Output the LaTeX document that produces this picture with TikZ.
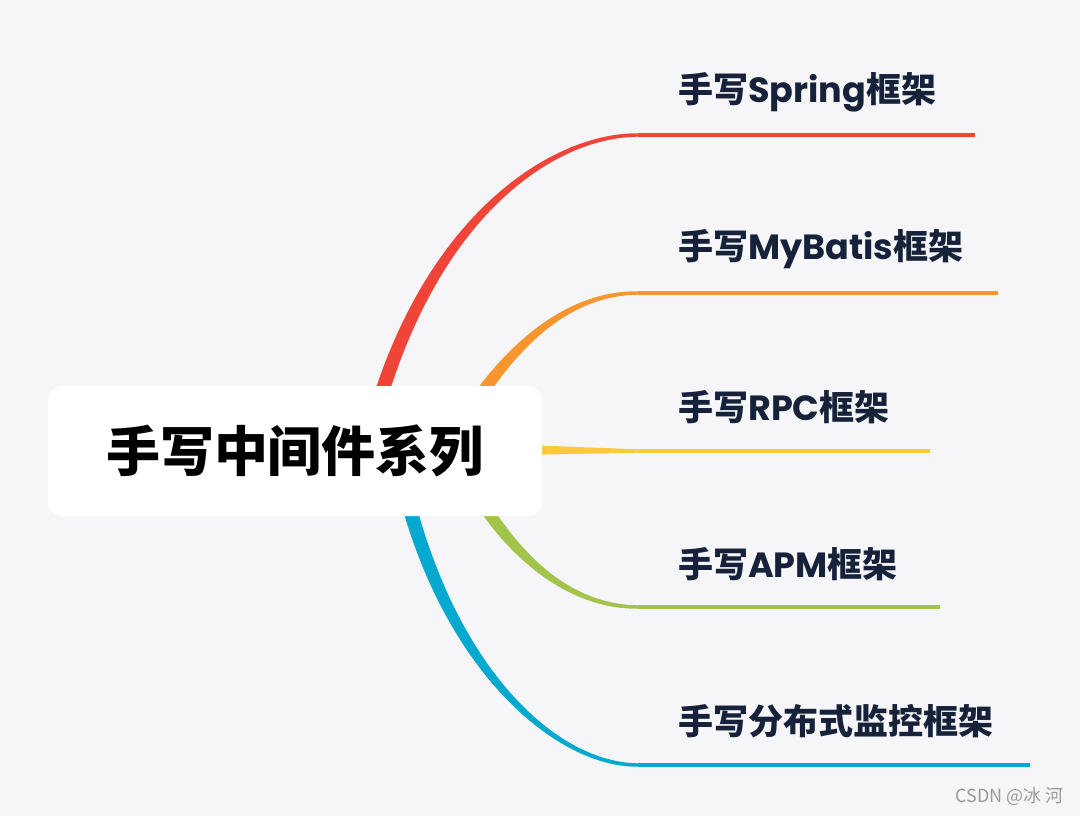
\documentclass[tikz,border=0pt]{standalone}
\usepackage{fontspec}
\setmainfont{Poppins}
\newfontfamily\cjk{Noto Sans CJK SC}
\newfontfamily\lat{Poppins}
\usetikzlibrary{calc}
\definecolor{bg}{HTML}{F6F6F9}
\definecolor{cred}{HTML}{F04438}
\definecolor{corange}{HTML}{F7962F}
\definecolor{cyellow}{HTML}{FEC83C}
\definecolor{cgreen}{HTML}{A2C44A}
\definecolor{cblue}{HTML}{05A9CF}
\definecolor{ink}{HTML}{15223A}
\definecolor{wm}{HTML}{9A9A9A}
\tikzset{
  rootbox/.style={fill=white, rounded corners=14pt, minimum width=494pt, minimum height=130pt, inner sep=0pt, text=black, font=\cjk\bfseries\fontsize{54}{60}\selectfont},
  lbl/.style={anchor=west, inner sep=0pt, text=ink, font=\bfseries\fontsize{35}{40}\selectfont},
  thin/.style={line width=3.4pt},
  wmark/.style={anchor=east, inner sep=0pt, text=wm, font=\cjk\fontsize{18}{20}\selectfont}
}
\begin{document}
\begin{tikzpicture}[x=1pt,y=-1pt]
\fill[bg] (0,0) rectangle (1080,816);
\useasboundingbox (0,0) rectangle (1080,816);
% branch control coordinates
\coordinate (r0) at (384,386); \coordinate (r1) at (444,206); \coordinate (r2) at (558,135); \coordinate (r3) at (638,135); \coordinate (re) at (975,135);
\coordinate (o0) at (487,386); \coordinate (o1) at (525,335); \coordinate (o2) at (575,293); \coordinate (o3) at (638,293); \coordinate (oe) at (998,293);
\coordinate (y0) at (530,450); \coordinate (y3) at (638,451); \coordinate (ye) at (930,451);
\coordinate (g0) at (491,516); \coordinate (g1) at (527,567); \coordinate (g2) at (577,607); \coordinate (g3) at (638,607); \coordinate (ge) at (940,607);
\coordinate (b0) at (412,516); \coordinate (b1) at (460,679); \coordinate (b2) at (560,765); \coordinate (b3) at (638,765); \coordinate (be) at (1030,765);
% red
\fill[cred] ($(r0)+(-6.6,-2.2)+(-6.3,19)$) -- ($(r0)+(-6.6,-2.2)$) .. controls ($(r1)+(-5.2,-1.7)$) and ($(r2)+(0,-2.5)$) .. ($(r3)+(0,-1.7)$)
  -- ($(r3)+(0,1.7)$) .. controls ($(r2)+(0,2.5)$) and ($(r1)+(5.2,1.7)$) .. ($(r0)+(6.6,2.2)$) -- ($(r0)+(6.6,2.2)+(-6.3,19)$) -- cycle;
\draw[cred, thin] (r3) -- (re);
% orange
\fill[corange] ($(o0)+(-4.8,-3.6)+(-12,16)$) -- ($(o0)+(-4.8,-3.6)$) .. controls ($(o1)+(-3.6,-2.7)$) and ($(o2)+(0,-2.5)$) .. ($(o3)+(0,-1.7)$)
  -- ($(o3)+(0,1.7)$) .. controls ($(o2)+(0,2.5)$) and ($(o1)+(3.6,2.7)$) .. ($(o0)+(4.8,3.6)$) -- ($(o0)+(4.8,3.6)+(-12,16)$) -- cycle;
\draw[corange, thin] (o3) -- (oe);
% yellow
\fill[cyellow] ($(y0)+(0,-4.8)$) -- ($(y3)+(0,-1.7)$) -- ($(y3)+(0,1.7)$) -- ($(y0)+(0,4.8)$) -- cycle;
\draw[cyellow, thin] (y3) -- (ye);
% green
\fill[cgreen] ($(g0)+(4.9,-3.5)+(-11.5,-16.3)$) -- ($(g0)+(4.9,-3.5)$) .. controls ($(g1)+(3.7,-2.6)$) and ($(g2)+(0,-2.5)$) .. ($(g3)+(0,-1.7)$)
  -- ($(g3)+(0,1.7)$) .. controls ($(g2)+(0,2.5)$) and ($(g1)+(-3.7,2.6)$) .. ($(g0)+(-4.9,3.5)$) -- ($(g0)+(-4.9,3.5)+(-11.5,-16.3)$) -- cycle;
\draw[cgreen, thin] (g3) -- (ge);
% blue
\fill[cblue] ($(b0)+(6.7,-2.0)+(-5.6,-19.2)$) -- ($(b0)+(6.7,-2.0)$) .. controls ($(b1)+(5.3,-1.6)$) and ($(b2)+(0,-2.5)$) .. ($(b3)+(0,-1.7)$)
  -- ($(b3)+(0,1.7)$) .. controls ($(b2)+(0,2.5)$) and ($(b1)+(-5.3,1.6)$) .. ($(b0)+(-6.7,2.0)$) -- ($(b0)+(-6.7,2.0)+(-5.6,-19.2)$) -- cycle;
\draw[cblue, thin] (b3) -- (be);
% root
\node[rootbox] (root) at (295,451) {手写中间件系列};
% labels
\node[lbl] (l1) at (678,92) {\cjk 手写\lat Spring\cjk 框架};
\node[lbl] (l2) at (678,249) {\cjk 手写\lat MyBatis\cjk 框架};
\node[lbl] (l3) at (678,407) {\cjk 手写\lat RPC\cjk 框架};
\node[lbl] (l4) at (678,564) {\cjk 手写\lat APM\cjk 框架};
\node[lbl] (l5) at (678,721) {\cjk 手写分布式监控框架};
\node[wmark] (wm) at (1064,797) {CSDN @冰 河};
\end{tikzpicture}
\end{document}
